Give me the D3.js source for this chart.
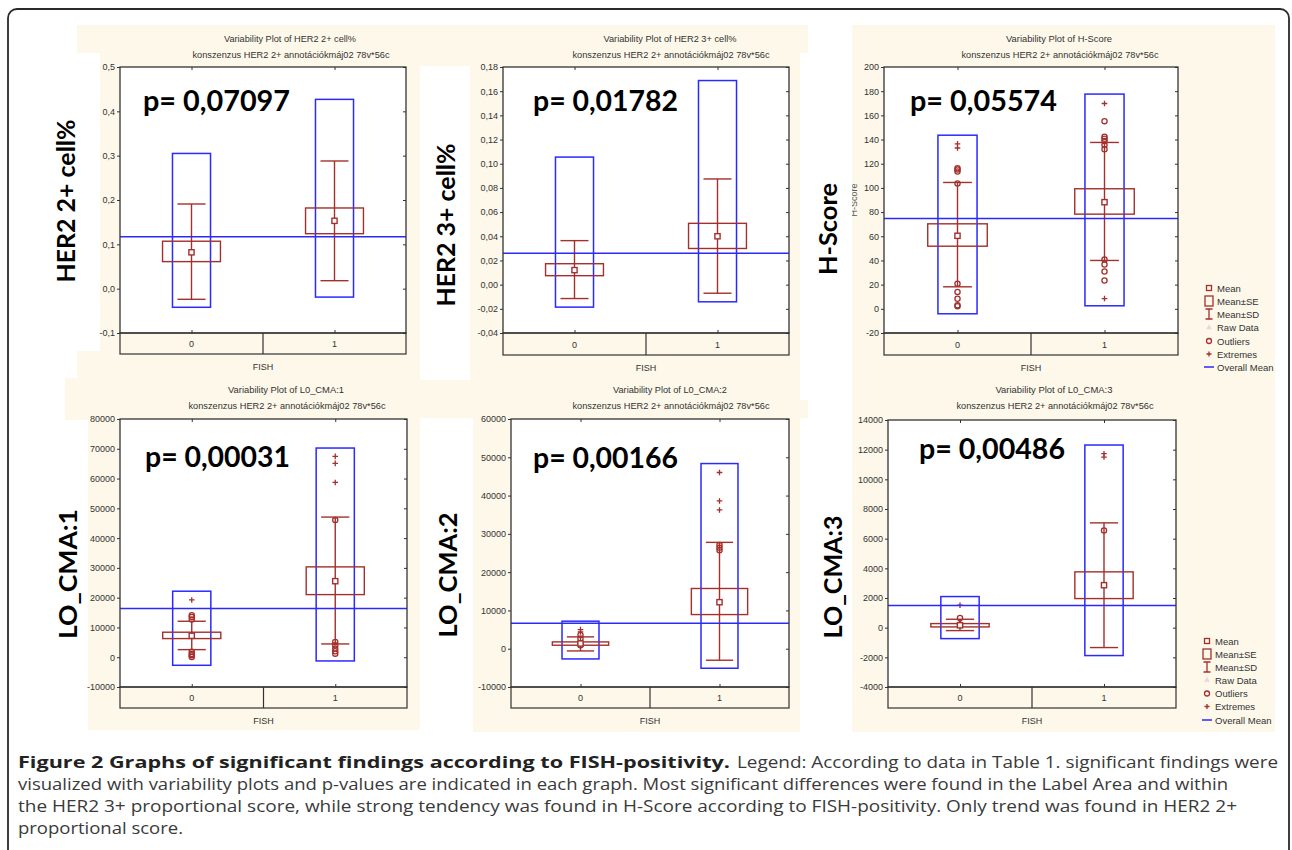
<!DOCTYPE html>
<html><head><meta charset="utf-8">
<script src="https://cdn.jsdelivr.net/npm/d3@7"></script>
<style>body{margin:0;background:#fff} svg{display:block}</style>
</head><body><svg id="c" width="1292" height="850"></svg>
<script>
// ---------------- DATA ----------------
const categories = ["0", "1"];

// HER2 2+ cell%
const her2p2Mean = [0.082, 0.153];
const her2p2SE = [[0.061, 0.107], [0.124, 0.182]];
const her2p2SD = [[-0.024, 0.191], [0.018, 0.288]];
const her2p2Range = [[-0.042, 0.305], [-0.019, 0.427]];
const her2p2Outliers = [[], []];
const her2p2Extremes = [[], []];
const her2p2Overall = 0.117;
const her2p2Ticks = [-0.1, 0, 0.1, 0.2, 0.3, 0.4, 0.5];

// HER2 3+ cell%
const her2p3Mean = [0.012, 0.040];
const her2p3SE = [[0.0074, 0.0173], [0.0299, 0.0507]];
const her2p3SD = [[-0.0115, 0.0364], [-0.0071, 0.0874]];
const her2p3Range = [[-0.0186, 0.1055], [-0.0142, 0.1688]];
const her2p3Outliers = [[], []];
const her2p3Extremes = [[], []];
const her2p3Overall = 0.026;
const her2p3Ticks = [-0.04, -0.02, 0, 0.02, 0.04, 0.06, 0.08, 0.10, 0.12, 0.14, 0.16, 0.18];

// H-Score
const hscoreMean = [60.4, 88.2];
const hscoreSE = [[51.8, 70.3], [78.3, 99.3]];
const hscoreSD = [[18.2, 104.5], [40, 137.6]];
const hscoreRange = [[-4.1, 143.6], [2.5, 177.6]];
const hscoreOutliers = [[103.7, 113.6, 115.2, 116.3, 20.7, 14, 8.3, 3, 2.2],
                        [155.2, 142.3, 140.6, 138.7, 135.4, 132, 40.8, 36.7, 30.9, 23.4]];
const hscoreExtremes = [[136.5, 133], [169.8, 8.5]];
const hscoreOverall = 74.7;
const hscoreTicks = [-20, 0, 20, 40, 60, 80, 100, 120, 140, 160, 180, 200];

// LO_CMA:1
const cma1Mean = [7200, 25540];
const cma1SE = [[6260, 8400], [21030, 30340]];
const cma1SD = [[2550, 12080], [4460, 47060]];
const cma1Range = [[-2710, 22170], [-1250, 70250]];
const cma1Outliers = [[14100, 13500, 12700, 1800, 1100, 700, 100], [46050, 5140, 4000, 2900, 2000, 1200]];
const cma1Extremes = [[19240], [67450, 65100, 58700]];
const cma1Overall = 16400;
const cma1Ticks = [-10000, 0, 10000, 20000, 30000, 40000, 50000, 60000, 70000, 80000];

// LO_CMA:2
const cma2Mean = [1360, 12150];
const cma2SE = [[910, 1780], [8920, 15730]];
const cma2SD = [[-580, 3090], [-3010, 27780]];
const cma2Range = [[-2670, 7190], [-5100, 48360]];
const cma2Outliers = [[3600, 2700, 1500, 900], [27060, 26360, 25750]];
const cma2Extremes = [[5000, 4400], [46020, 38600, 36250]];
const cma2Overall = 6670;
const cma2Ticks = [-10000, 0, 10000, 20000, 30000, 40000, 50000, 60000];

// LO_CMA:3
const cma3Mean = [160, 2862];
const cma3SE = [[50, 275], [1962, 3762]];
const cma3SD = [[-198, 567], [-1341, 7066]];
const cma3Range = [[-738, 2097], [-1881, 12313]];
const cma3Outliers = [[657, 207], [6552]];
const cma3Extremes = [[1512], [11727, 11502]];
const cma3Overall = 1490;
const cma3Ticks = [-4000, -2000, 0, 2000, 4000, 6000, 8000, 10000, 12000, 14000];

const legendLabels = ["Mean", "Mean±SE", "Mean±SD", "Raw Data", "Outliers", "Extremes", "Overall Mean"];
const subtitle = "konszenzus HER2 2+ annotációkmáj02 78v*56c";

// ---------------- STYLE ----------------
const RED = "#a3302c", BLUE = "#2a2aff", CREAM = "#fdf8ea", AX = "#333";
const SANS = "'Liberation Sans', Arial, sans-serif";
const BOLD = "Lato, 'Open Sans', sans-serif";
const loc = d3.formatLocale({decimal: ",", thousands: "", grouping: [3], currency: ["", ""], minus: "-"});

const svg = d3.select("#c");

// outer frame
svg.append("rect").attr("x", 8).attr("y", 9).attr("width", 1281).attr("height", 900)
  .attr("rx", 9).attr("fill", "#fff").attr("stroke", "#2a2a2a").attr("stroke-width", 1.8);

const panels = [
  {mean: her2p2Mean, se: her2p2SE, sd: her2p2SD, range: her2p2Range, out: her2p2Outliers, ext: her2p2Extremes, overall: her2p2Overall, ticks: her2p2Ticks,
   fmt: loc.format(".1f"), title: "Variability Plot of HER2 2+ cell%", label: "HER2 2+ cell%", p: "p= 0,07097",
   left: 120, right: 406, top: 67, bottom: 333, strip: 354, titleX: 290, titleY: 41.5, titleLen: 132,
   bg: [77, 25, 343, 355], white: [40, 53, 60, 298], labX: 75, labY: 201, labLen: 163,
   pX: 143, pY: 111, pLen: 147},
  {mean: her2p3Mean, se: her2p3SE, sd: her2p3SD, range: her2p3Range, out: her2p3Outliers, ext: her2p3Extremes, overall: her2p3Overall, ticks: her2p3Ticks,
   fmt: loc.format(".2f"), title: "Variability Plot of HER2 3+ cell%", label: "HER2 3+ cell%", p: "p= 0,01782",
   left: 503, right: 789, top: 67, bottom: 333, strip: 355, titleX: 670, titleY: 41.5, titleLen: 133,
   bg: [420, 25, 388, 355], white: [420, 66, 50, 314], labX: 455, labY: 225, labLen: 163,
   pX: 533, pY: 111, pLen: 145},
  {mean: hscoreMean, se: hscoreSE, sd: hscoreSD, range: hscoreRange, out: hscoreOutliers, ext: hscoreExtremes, overall: hscoreOverall, ticks: hscoreTicks,
   fmt: loc.format("d"), title: "Variability Plot of H-Score", label: "H-Score", p: "p= 0,05574",
   left: 884, right: 1178, top: 67, bottom: 333, strip: 355, titleX: 1059, titleY: 41.5, titleLen: 106,
   bg: [852, 25, 423, 355], white: [800, 53, 52, 347], labX: 837, labY: 229, labLen: 92,
   pX: 910, pY: 111, pLen: 147, small: "H-Score",
   legend: {x: 1209, ys: [288, 301, 314, 327.5, 341, 354, 367]}},
  {mean: cma1Mean, se: cma1SE, sd: cma1SD, range: cma1Range, out: cma1Outliers, ext: cma1Extremes, overall: cma1Overall, ticks: cma1Ticks,
   fmt: loc.format("d"), title: "Variability Plot of L0_CMA:1", label: "LO_CMA:1", p: "p= 0,00031",
   left: 120, right: 407, top: 419, bottom: 687, strip: 708, titleX: 286, titleY: 393, titleLen: 116,
   bg: [65, 378, 355, 352], white: [20, 420, 68, 310], labX: 77, labY: 574, labLen: 130,
   pX: 145, pY: 467, pLen: 145},
  {mean: cma2Mean, se: cma2SE, sd: cma2SD, range: cma2Range, out: cma2Outliers, ext: cma2Extremes, overall: cma2Overall, ticks: cma2Ticks,
   fmt: loc.format("d"), title: "Variability Plot of L0_CMA:2", label: "LO_CMA:2", p: "p= 0,00166",
   left: 511, right: 789, top: 419, bottom: 687, strip: 708, titleX: 670, titleY: 393, titleLen: 114,
   bg: [420, 378, 388, 354], white: [420, 418, 53, 314], labX: 457, labY: 575, labLen: 125,
   pX: 533, pY: 468, pLen: 145},
  {mean: cma3Mean, se: cma3SE, sd: cma3SD, range: cma3Range, out: cma3Outliers, ext: cma3Extremes, overall: cma3Overall, ticks: cma3Ticks,
   fmt: loc.format("d"), title: "Variability Plot of L0_CMA:3", label: "LO_CMA:3", p: "p= 0,00486",
   left: 888, right: 1176, top: 420, bottom: 687, strip: 708, titleX: 1054, titleY: 393, titleLen: 117,
   bg: [852, 375, 423, 357], white: [800, 418, 52, 314], labX: 842, labY: 577, labLen: 123,
   pX: 919, pY: 459, pLen: 146,
   legend: {x: 1207, ys: [641, 654, 667, 680, 693.5, 706.5, 720]}}
];

// backgrounds first (so neighbours don't overwrite content)
panels.forEach(p => {
  svg.append("rect").attr("x", p.bg[0]).attr("y", p.bg[1]).attr("width", p.bg[2]).attr("height", p.bg[3]).attr("fill", CREAM);
});
panels.forEach(p => {
  svg.append("rect").attr("x", p.white[0]).attr("y", p.white[1]).attr("width", p.white[2]).attr("height", p.white[3]).attr("fill", "#fff");
});

function drawPanel(p) {
  const g = svg.append("g");
  const x = d3.scaleBand().domain(categories).range([p.left, p.right]);
  const bw = x.bandwidth();
  const cx = c => x(c) + bw / 2;
  const y = d3.scaleLinear().domain([p.ticks[0], p.ticks[p.ticks.length - 1]]).range([p.bottom, p.top]);
  const rw = bw * 0.266, sew = bw * 0.405, capw = bw * 0.196;

  // titles
  g.append("text").attr("x", p.titleX).attr("y", p.titleY).attr("text-anchor", "middle")
    .attr("font-family", SANS).attr("font-size", 9).attr("fill", AX)
    .attr("textLength", p.titleLen).attr("lengthAdjust", "spacingAndGlyphs").text(p.title);
  g.append("text").attr("x", p.titleX + 1).attr("y", p.titleY + 16).attr("text-anchor", "middle")
    .attr("font-family", SANS).attr("font-size", 9).attr("fill", AX)
    .attr("textLength", 197).attr("lengthAdjust", "spacingAndGlyphs").text(subtitle);

  // plot area
  g.append("rect").attr("x", p.left).attr("y", p.top).attr("width", p.right - p.left).attr("height", p.bottom - p.top).attr("fill", "#fff");
  // category strip
  g.append("rect").attr("x", p.left).attr("y", p.bottom).attr("width", p.right - p.left).attr("height", p.strip - p.bottom)
    .attr("fill", CREAM).attr("stroke", AX).attr("stroke-width", 1.2);
  g.append("line").attr("x1", (p.left + p.right) / 2).attr("x2", (p.left + p.right) / 2)
    .attr("y1", p.bottom).attr("y2", p.strip).attr("stroke", AX).attr("stroke-width", 1.2);
  g.selectAll(".cat").data(categories).join("text").attr("x", cx).attr("y", (p.bottom + p.strip) / 2 + 3.5)
    .attr("text-anchor", "middle").attr("font-family", SANS).attr("font-size", 9).attr("fill", AX).text(d => d);
  g.append("text").attr("x", (p.left + p.right) / 2).attr("y", p.strip + 15.5).attr("text-anchor", "middle")
    .attr("font-family", SANS).attr("font-size", 9).attr("fill", AX).text("FISH");

  // small secondary axis title (mostly hidden)
  if (p.small) {
    g.append("text").attr("transform", `translate(${p.white[0] + p.white[2] + 5},${(p.top + p.bottom) / 2}) rotate(-90)`)
      .attr("text-anchor", "middle").attr("font-family", SANS).attr("font-size", 9).attr("fill", "#555").text(p.small);
    g.append("rect").attr("x", p.white[0]).attr("y", p.white[1]).attr("width", p.white[2]).attr("height", p.white[3]).attr("fill", "#fff");
  }

  // axes
  const al = g.append("g").attr("transform", `translate(${p.left},0)`)
    .call(d3.axisLeft(y).tickValues(p.ticks).tickFormat(p.fmt).tickSize(3).tickPadding(2));
  al.select(".domain").remove();
  al.selectAll("text").attr("font-family", SANS).attr("font-size", 9).attr("fill", AX);
  al.selectAll("line").attr("stroke", AX);
  const ar = g.append("g").attr("transform", `translate(${p.right},0)`)
    .call(d3.axisRight(y).tickValues(p.ticks).tickFormat("").tickSize(-3));
  ar.select(".domain").remove();
  ar.selectAll("line").attr("stroke", AX);
  const at = g.append("g").attr("transform", `translate(0,${p.top})`)
    .call(d3.axisTop(d3.scalePoint().domain(categories).range([cx("0"), cx("1")])).tickFormat("").tickSize(-3));
  at.select(".domain").remove(); at.selectAll("line").attr("stroke", AX);
  const ab = g.append("g").attr("transform", `translate(0,${p.bottom})`)
    .call(d3.axisBottom(d3.scalePoint().domain(categories).range([cx("0"), cx("1")])).tickFormat("").tickSize(-3));
  ab.select(".domain").remove(); ab.selectAll("line").attr("stroke", AX);

  // min-max (blue) boxes
  g.selectAll(".rng").data(categories).join("rect")
    .attr("x", c => cx(c) - rw / 2).attr("width", rw)
    .attr("y", (c, i) => y(p.range[i][1])).attr("height", (c, i) => y(p.range[i][0]) - y(p.range[i][1]))
    .attr("fill", "none").attr("stroke", BLUE).attr("stroke-width", 1.5);

  // SD whiskers
  categories.forEach((c, i) => {
    const [lo, hi] = p.sd[i];
    g.append("line").attr("x1", cx(c)).attr("x2", cx(c)).attr("y1", y(lo)).attr("y2", y(hi)).attr("stroke", RED).attr("stroke-width", 1.4);
    [lo, hi].forEach(v => g.append("line").attr("x1", cx(c) - capw / 2).attr("x2", cx(c) + capw / 2)
      .attr("y1", y(v)).attr("y2", y(v)).attr("stroke", RED).attr("stroke-width", 1.4));
  });
  // SE boxes
  g.selectAll(".se").data(categories).join("rect")
    .attr("x", c => cx(c) - sew / 2).attr("width", sew)
    .attr("y", (c, i) => y(p.se[i][1])).attr("height", (c, i) => y(p.se[i][0]) - y(p.se[i][1]))
    .attr("fill", "none").attr("stroke", RED).attr("stroke-width", 1.4);
  // outliers
  categories.forEach((c, i) => {
    g.selectAll(null).data(p.out[i]).join("circle").attr("cx", cx(c)).attr("cy", v => y(v)).attr("r", 2.6)
      .attr("fill", "none").attr("stroke", RED).attr("stroke-width", 1.3);
    g.selectAll(null).data(p.ext[i]).join("path")
      .attr("d", v => `M${cx(c) - 2.8},${y(v)}h5.6M${cx(c)},${y(v) - 2.8}v5.6`)
      .attr("stroke", RED).attr("stroke-width", 1.3);
  });
  // means
  g.selectAll(".mean").data(categories).join("rect")
    .attr("x", c => cx(c) - 2.6).attr("y", (c, i) => y(p.mean[i]) - 2.6).attr("width", 5.2).attr("height", 5.2)
    .attr("fill", "#fff").attr("stroke", RED).attr("stroke-width", 1.4);
  // overall mean
  g.append("line").attr("x1", p.left).attr("x2", p.right).attr("y1", y(p.overall)).attr("y2", y(p.overall))
    .attr("stroke", BLUE).attr("stroke-width", 1.5);

  // plot border
  g.append("rect").attr("x", p.left).attr("y", p.top).attr("width", p.right - p.left).attr("height", p.bottom - p.top)
    .attr("fill", "none").attr("stroke", AX).attr("stroke-width", 1.3);

  // p-value
  g.append("text").attr("x", p.pX).attr("y", p.pY).attr("font-family", BOLD).attr("font-weight", 700)
    .attr("font-size", 28).attr("fill", "#000").attr("textLength", p.pLen).attr("lengthAdjust", "spacingAndGlyphs").text(p.p);
  // big axis label
  g.append("text").attr("transform", `translate(${p.labX},${p.labY}) rotate(-90)`).attr("text-anchor", "middle")
    .attr("font-family", BOLD).attr("font-weight", 700).attr("font-size", 25).attr("fill", "#000")
    .attr("textLength", p.labLen).attr("lengthAdjust", "spacingAndGlyphs").text(p.label);

  if (p.legend) drawLegend(p.legend.x, p.legend.ys);
}

function drawLegend(x0, ys) {
  const g = svg.append("g");
  g.selectAll("text").data(legendLabels).join("text").attr("x", x0 + 8).attr("y", (d, i) => ys[i] + 3.5)
    .attr("font-family", SANS).attr("font-size", 9.5).attr("fill", AX).text(d => d);
  // Mean
  g.append("rect").attr("x", x0 - 2.5).attr("y", ys[0] - 2.5).attr("width", 5).attr("height", 5)
    .attr("fill", "none").attr("stroke", RED).attr("stroke-width", 1.3);
  // Mean±SE
  g.append("rect").attr("x", x0 - 4).attr("y", ys[1] - 5).attr("width", 8).attr("height", 10)
    .attr("fill", "none").attr("stroke", RED).attr("stroke-width", 1.3);
  // Mean±SD
  g.append("path").attr("d", `M${x0 - 3.5},${ys[2] - 5}h7M${x0},${ys[2] - 5}v10M${x0 - 3.5},${ys[2] + 5}h7`)
    .attr("fill", "none").attr("stroke", RED).attr("stroke-width", 1.3);
  // Raw data
  g.append("path").attr("d", d3.symbol(d3.symbolTriangle, 14)()).attr("transform", `translate(${x0},${ys[3]})`)
    .attr("fill", "#ecd6d6");
  // Outliers
  g.append("circle").attr("cx", x0).attr("cy", ys[4]).attr("r", 2.5).attr("fill", "none").attr("stroke", RED).attr("stroke-width", 1.3);
  // Extremes
  g.append("path").attr("d", `M${x0 - 2.5},${ys[5]}h5M${x0},${ys[5] - 2.5}v5`).attr("stroke", RED).attr("stroke-width", 1.3);
  // Overall mean
  g.append("line").attr("x1", x0 - 5).attr("x2", x0 + 5).attr("y1", ys[6]).attr("y2", ys[6]).attr("stroke", BLUE).attr("stroke-width", 1.5);
}

panels.forEach(drawPanel);

// ---------------- CAPTION ----------------
const cap = svg.append("g").attr("font-family", "'Open Sans', sans-serif").attr("font-size", 16);
cap.append("text").attr("x", 18).attr("y", 768).attr("font-weight", 700).attr("font-size", 16.5).attr("fill", "#222")
  .attr("textLength", 712).attr("lengthAdjust", "spacingAndGlyphs")
  .text("Figure 2 Graphs of significant findings according to FISH-positivity.");
const capLines = [
  {t: "Legend: According to data in Table 1. significant findings were", x: 737, y: 768, w: 541},
  {t: "visualized with variability plots and p-values are indicated in each graph. Most significant differences were found in the Label Area and within", x: 18, y: 790, w: 1210},
  {t: "the HER2 3+ proportional score, while strong tendency was found in H-Score according to FISH-positivity. Only trend was found in HER2 2+", x: 18, y: 812, w: 1219},
  {t: "proportional score.", x: 18, y: 834, w: 165}
];
capLines.forEach(l => cap.append("text").attr("x", l.x).attr("y", l.y).attr("fill", "#3a3a3a")
  .attr("textLength", l.w).attr("lengthAdjust", "spacingAndGlyphs").text(l.t));
</script>
</body></html>
